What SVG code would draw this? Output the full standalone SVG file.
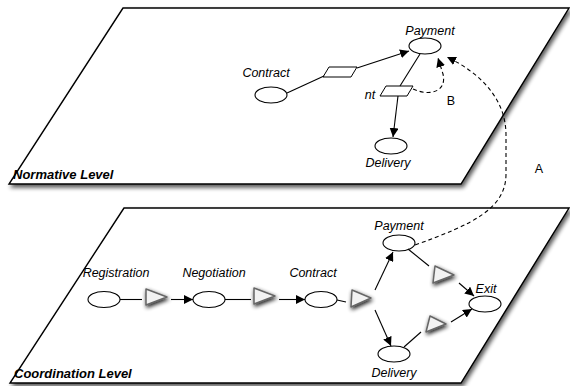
<svg xmlns="http://www.w3.org/2000/svg" width="570" height="386" viewBox="0 0 570 386">
<defs>
<filter id="planeShadow" x="-5%" y="-5%" width="112%" height="115%">
<feGaussianBlur in="SourceAlpha" stdDeviation="2"/>
<feOffset dx="2" dy="3" result="b"/>
<feComponentTransfer><feFuncA type="linear" slope="0.65"/></feComponentTransfer>
<feMerge><feMergeNode/><feMergeNode in="SourceGraphic"/></feMerge>
</filter>
<filter id="triShadow" x="-60%" y="-60%" width="220%" height="220%">
<feGaussianBlur in="SourceAlpha" stdDeviation="2.2"/>
<feOffset dx="0.5" dy="1.5"/>
<feComponentTransfer><feFuncA type="linear" slope="0.9"/></feComponentTransfer>
<feMerge><feMergeNode/><feMergeNode in="SourceGraphic"/></feMerge>
</filter>
<marker id="arr" viewBox="0 0 10 10" refX="10" refY="5" markerWidth="9" markerHeight="9" markerUnits="userSpaceOnUse" orient="auto">
<path d="M0,0 L10,5 L0,10 z" fill="#000"/>
</marker>
</defs>
<style>
.plane{fill:#fff;stroke:#000;stroke-width:1.4;filter:url(#planeShadow)}
.place{fill:#fff;stroke:#000;stroke-width:1.1}
.trans{fill:#fff;stroke:#000;stroke-width:1}
.tri{fill:#f2f2f2;stroke:#666;stroke-width:1.5;stroke-linejoin:round;filter:url(#triShadow)}
.edge{fill:none;stroke:#000;stroke-width:1.1}
.arrow{fill:none;stroke:#000;stroke-width:1.1;marker-end:url(#arr)}
.dash{fill:none;stroke:#000;stroke-width:1.1;stroke-dasharray:4 3;marker-end:url(#arr)}
.lbl{font-family:"Liberation Sans",Arial,sans-serif;font-size:12.5px;font-style:italic;fill:#000;text-anchor:middle}
.plain{font-family:"Liberation Sans",Arial,sans-serif;font-size:12.5px;fill:#000;text-anchor:middle}
.level{font-family:"Liberation Sans",Arial,sans-serif;font-size:13px;font-style:italic;font-weight:bold;fill:#000}
</style>

<g id="normative-level">
<polygon class="plane" points="123,8 569,8 461,184 9,184"/>
<text class="level" x="13" y="179">Normative Level</text>
</g>
<g id="coordination-level">
<polygon class="plane" points="124,208 569,208 461,383 10,383"/>
<text class="level" x="14" y="378">Coordination Level</text>
</g>

<g id="n-payment"><ellipse class="place" cx="425" cy="46" rx="16" ry="8"/><text class="lbl" x="430" y="35">Payment</text></g>
<g id="n-contract"><ellipse class="place" cx="271" cy="95" rx="16" ry="8"/><text class="lbl" x="266" y="77">Contract</text></g>
<g id="n-t1"><polygon class="trans" points="323,77 329,67 357,67 351,77"/></g>
<g id="n-nt"><polygon class="trans" points="380,96 386,86 413,86 407,96"/><text class="lbl" x="370" y="99">nt</text></g>
<g id="n-delivery"><ellipse class="place" cx="391" cy="146" rx="16" ry="8"/><text class="lbl" x="388" y="167">Delivery</text></g>

<g id="c-registration"><ellipse class="place" cx="104" cy="299.5" rx="16" ry="8"/><text class="lbl" x="116" y="277">Registration</text></g>
<g id="c-negotiation"><ellipse class="place" cx="209" cy="299.5" rx="16" ry="8"/><text class="lbl" x="214" y="277">Negotiation</text></g>
<g id="c-contract"><ellipse class="place" cx="321" cy="299.5" rx="16" ry="8"/><text class="lbl" x="313" y="277">Contract</text></g>
<g id="c-payment"><ellipse class="place" cx="399" cy="243" rx="16" ry="8"/><text class="lbl" x="399" y="230">Payment</text></g>
<g id="c-delivery"><ellipse class="place" cx="394" cy="354" rx="16" ry="8"/><text class="lbl" x="394" y="377">Delivery</text></g>
<g id="c-exit"><ellipse class="place" cx="485" cy="304" rx="16" ry="8"/><text class="lbl" x="486" y="293">Exit</text></g>
<g id="c-t1"><polygon class="tri" points="146,289 167,297 146,305"/></g>
<g id="c-t2"><polygon class="tri" points="254,288 275,296 254,304"/></g>
<g id="c-t3"><polygon class="tri" points="352,290 371,298 351,307"/></g>
<g id="c-t4"><polygon class="tri" points="435,266 454,275 433,283"/></g>
<g id="c-t5"><polygon class="tri" points="430,316 446,324 426,332"/></g>

<g id="connectors">
<line class="edge" x1="287" y1="93" x2="324" y2="76"/>
<line class="arrow" x1="357" y1="68" x2="409" y2="51"/>
<line class="edge" x1="420" y1="54" x2="400" y2="86"/>
<line class="arrow" x1="398" y1="96" x2="393" y2="137"/>
<path class="dash" d="M413,89 C431,97 447,91 443,74 L438,58"/>
<path class="dash" d="M415,245 C474,224 506,208 506,174 L506,135 C506,100 482,74 447,57"/>
<text class="plain" x="451" y="105">B</text>
<text class="plain" x="539" y="173">A</text>

<line class="edge" x1="120" y1="299.5" x2="142" y2="299.5"/>
<line class="arrow" x1="171" y1="299.5" x2="193" y2="299.5"/>
<line class="edge" x1="225" y1="299.5" x2="251" y2="299.5"/>
<line class="arrow" x1="279" y1="299.5" x2="305" y2="299.5"/>
<line class="edge" x1="337" y1="300" x2="346" y2="302"/>
<line class="arrow" x1="375" y1="290" x2="393" y2="252"/>
<line class="arrow" x1="375" y1="310" x2="391" y2="346"/>
<line class="edge" x1="408" y1="249" x2="429" y2="266"/>
<line class="arrow" x1="459" y1="283" x2="474" y2="296"/>
<line class="edge" x1="404" y1="347" x2="421" y2="332"/>
<line class="arrow" x1="451" y1="322" x2="472" y2="309"/>
</g>
</svg>
